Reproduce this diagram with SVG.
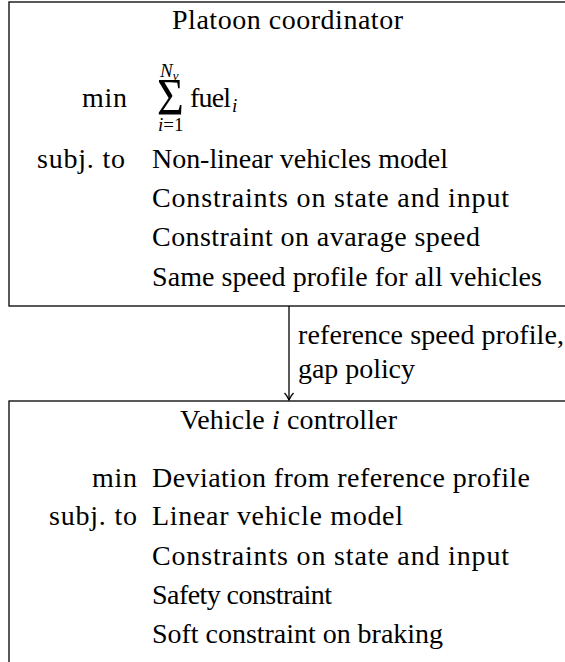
<svg xmlns="http://www.w3.org/2000/svg" width="565" height="662" viewBox="0 0 565 662">
<style>
.t{font-family:"Liberation Serif","Times New Roman",serif;font-size:28px;fill:#000}
.s{font-family:"Liberation Serif","Times New Roman",serif;font-size:19px;fill:#000}
.it{font-style:italic}
.box{fill:#fff;stroke:#000;stroke-width:1.3}
.conn{stroke:#000;stroke-width:1.3;fill:none}
</style>
<defs>
<marker id="arr" markerWidth="12" markerHeight="12" refX="0" refY="0" viewBox="-8 -6 10 12" orient="auto" markerUnits="userSpaceOnUse">
<path d="M-7,-4.5 C-4,-1.5 -1,-0.5 0,0 C-1,0.5 -4,1.5 -7,4.5" fill="none" stroke="#000" stroke-width="1.3"/>
</marker>
</defs>
<rect width="565" height="662" fill="#fff"/>
<g id="platoon-coordinator">
<rect class="box" x="9" y="2" width="600" height="304"/>
<text class="t" x="172" y="29" textLength="231">Platoon coordinator</text>
<text class="t" x="82" y="107" textLength="45">min</text>
<text class="t" transform="translate(157,115) scale(1.15,1.3)" style="font-size:40px">Σ</text>
<text class="s it" x="160" y="77">N<tspan style="font-size:13px" dy="3">v</tspan></text>
<text class="s" x="158" y="131"><tspan class="it">i</tspan>=1</text>
<text class="t" x="190" y="107" textLength="41">fuel</text>
<text class="s it" x="232" y="112">i</text>
<text class="t" x="37" y="168" textLength="88">subj. to</text>
<text class="t" x="152" y="168" textLength="296">Non-linear vehicles model</text>
<text class="t" x="152" y="207" textLength="357">Constraints on state and input</text>
<text class="t" x="152" y="246" textLength="328">Constraint on avarage speed</text>
<text class="t" x="152" y="286" textLength="390">Same speed profile for all vehicles</text>
</g>
<g id="vehicle-controller">
<rect class="box" x="9" y="401" width="600" height="300"/>
<text class="t" x="180" y="429" textLength="217">Vehicle <tspan class="it">i</tspan> controller</text>
<text class="t" x="92" y="487" textLength="45">min</text>
<text class="t" x="152" y="487" textLength="378">Deviation from reference profile</text>
<text class="t" x="49" y="525" textLength="88">subj. to</text>
<text class="t" x="152" y="525" textLength="251">Linear vehicle model</text>
<text class="t" x="152" y="565" textLength="357">Constraints on state and input</text>
<text class="t" x="152" y="604" textLength="180">Safety constraint</text>
<text class="t" x="152" y="643" textLength="291">Soft constraint on braking</text>
</g>
<g id="connectors">
<line class="conn" x1="289" y1="306" x2="289" y2="400" marker-end="url(#arr)"/>
<text class="t" x="298" y="344" textLength="266">reference speed profile,</text>
<text class="t" x="298" y="378" textLength="117">gap policy</text>
</g>
</svg>
